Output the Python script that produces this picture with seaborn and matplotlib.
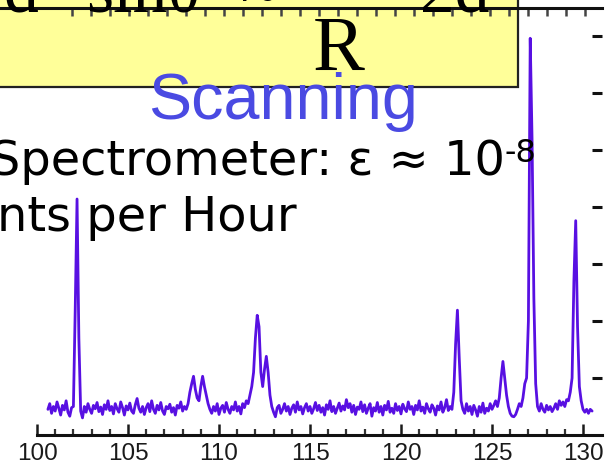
import numpy as np
import pandas as pd
import matplotlib
matplotlib.use("Agg")
import matplotlib.pyplot as plt
from matplotlib.patches import Rectangle
import seaborn as sns

# ---------------- data ----------------
x_start = 100.6
x_step = 0.1
counts = [
    0.45, 0.55, 0.38, 0.50,                                          # 100.6-100.9
    0.42, 0.58, 0.47, 0.35, 0.52, 0.44, 0.60, 0.40, 0.33, 0.48,      # 101
    0.50, 2.20, 4.14, 1.70, 0.42, 0.30, 0.50, 0.40, 0.55, 0.45,      # 102
    0.38, 0.52, 0.46, 0.57, 0.41, 0.49, 0.36, 0.53, 0.45, 0.60,      # 103
    0.43, 0.50, 0.37, 0.55, 0.46, 0.40, 0.58, 0.48, 0.35, 0.51,      # 104
    0.44, 0.56, 0.42, 0.38, 0.53, 0.64, 0.47, 0.40, 0.50, 0.36,      # 105
    0.48, 0.55, 0.41, 0.60, 0.45, 0.38, 0.52, 0.44, 0.57, 0.42,      # 106
    0.36, 0.50, 0.46, 0.54, 0.40, 0.48, 0.35, 0.52, 0.47, 0.58,      # 107
    0.42, 0.50, 0.45, 0.55, 0.75, 0.90, 1.03, 0.80, 0.65, 0.60,      # 108
    0.85, 1.03, 0.85, 0.70, 0.55, 0.45, 0.38, 0.50, 0.42, 0.55,      # 109
    0.36, 0.47, 0.52, 0.40, 0.57, 0.45, 0.38, 0.50, 0.44, 0.58,      # 110
    0.42, 0.50, 0.37, 0.55, 0.48, 0.60, 0.55, 0.70, 0.85, 1.10,      # 111
    1.70, 2.10, 1.90, 1.10, 0.85, 1.15, 1.38, 1.10, 0.70, 0.50,      # 112
    0.40, 0.32, 0.48, 0.52, 0.38, 0.45, 0.55, 0.42, 0.50, 0.36,      # 113
    0.47, 0.53, 0.40, 0.58, 0.44, 0.50, 0.37, 0.48, 0.55, 0.42,      # 114
    0.50, 0.38, 0.46, 0.57, 0.43, 0.52, 0.40, 0.48, 0.35, 0.53,      # 115
    0.45, 0.60, 0.41, 0.50, 0.38, 0.47, 0.56, 0.42, 0.51, 0.44,      # 116
    0.62, 0.48, 0.55, 0.40, 0.52, 0.36, 0.49, 0.45, 0.58, 0.41,      # 117
    0.53, 0.38, 0.47, 0.55, 0.33, 0.48, 0.42, 0.57, 0.40, 0.50,      # 118
    0.35, 0.52, 0.44, 0.59, 0.40, 0.47, 0.38, 0.55, 0.43, 0.50,      # 119
    0.37, 0.54, 0.46, 0.41, 0.58, 0.45, 0.50, 0.36, 0.52, 0.44,      # 120
    0.60, 0.42, 0.49, 0.38, 0.55, 0.46, 0.40, 0.53, 0.47, 0.35,      # 121
    0.51, 0.44, 0.58, 0.40, 0.48, 0.62, 0.43, 0.50, 0.45, 0.75,      # 122
    1.60, 2.19, 1.35, 0.60, 0.45, 0.38, 0.55, 0.42, 0.50, 0.36,      # 123
    0.52, 0.44, 0.33, 0.50, 0.40, 0.56, 0.38, 0.47, 0.42, 0.55,      # 124
    0.45, 0.52, 0.60, 0.50, 0.65, 1.00, 1.29, 1.00, 0.70, 0.50,      # 125
    0.38, 0.33, 0.32, 0.36, 0.45, 0.55, 0.50, 0.65, 0.90, 1.00,      # 126
    2.00, 6.96, 5.20, 2.40, 0.90, 0.50, 0.42, 0.55, 0.45, 0.40,      # 127
    0.52, 0.44, 0.50, 0.41, 0.47, 0.55, 0.45, 0.60, 0.52, 0.58,      # 128
    0.50, 0.62, 0.60, 0.75, 1.00, 2.70, 3.76, 1.90, 0.85, 0.60,      # 129
    0.45, 0.40, 0.45, 0.38, 0.45, 0.42,                              # 130
]
x_major = [100, 105, 110, 115, 120, 125, 130]
x_minor = [v for v in range(101, 131) if v % 5 != 0]
x_labels = ["100", "105", "110", "115", "120", "125", "130"]
y_ticks = [1, 2, 3, 4, 5, 6, 7]
top_ticks = list(range(103, 131))

positions = np.round(x_start + x_step * np.arange(len(counts)), 2)
df = pd.DataFrame({"pos": positions, "counts": counts})

# ---------------- figure ----------------
sns.set_theme(style="white")
plt.rcParams["font.family"] = ["Liberation Sans", "DejaVu Sans"]

W, H = 611, 467
fig = plt.figure(figsize=(W / 100, H / 100), dpi=100)
fig.patch.set_facecolor("white")

def fx(px):
    return px / W

def fy(py):
    return 1 - py / H

# pixel geometry of the plot
px100, ppu = 37.0, 18.2          # x=100 at px 37, 18.2 px per unit
py0, ppy = 435.0, 57.0           # y=0 at py 435, 57 px per unit
ax_left_px, ax_right_px, ax_top_px = 0.0, 602.0, 8.0

ax = fig.add_axes([fx(ax_left_px), fy(py0), fx(ax_right_px - ax_left_px),
                   (py0 - ax_top_px) / H])
ax.set_zorder(2)
ax.patch.set_visible(False)

sns.lineplot(data=df, x="pos", y="counts", ax=ax, color="#5810e2",
             linewidth=2.0, estimator=None, sort=False)

ax.set_xlim(100 - (px100 - ax_left_px) / ppu, 100 + (ax_right_px - px100) / ppu)
ax.set_ylim(0, (py0 - ax_top_px) / ppy)
ax.set_xlabel("")
ax.set_ylabel("")

for s in ["left", "right"]:
    ax.spines[s].set_visible(False)
for s in ["top", "bottom"]:
    ax.spines[s].set_color("#111111")
    ax.spines[s].set_linewidth(2.2)
ax.spines["bottom"].set_bounds(100, ax.get_xlim()[1])

ax.set_xticks(x_major)
ax.set_xticklabels(x_labels)
ax.set_xticks(x_minor, minor=True)
ax.tick_params(axis="x", which="major", direction="in", length=8, width=1.8,
               colors="#1a1a1a", labelsize=17.5, pad=6, top=False, bottom=True)
ax.tick_params(axis="x", which="minor", direction="in", length=4.5, width=1.6,
               colors="#333333", top=False, bottom=True)

ax.yaxis.tick_right()
ax.set_yticks(y_ticks)
ax.tick_params(axis="y", which="both", direction="in", length=7.5, width=2.2,
               colors="#111111", labelright=False, labelleft=False,
               left=False, right=True)

# top axis ticks (slightly different scale in the original scan)
def fwd(v):
    px = px100 + (v - 100) * ppu
    return 130 - (585 - px) / 19.0

def inv(t):
    px = 585 - (130 - t) * 19.0
    return 100 + (px - px100) / ppu

secax = ax.secondary_xaxis("top", functions=(fwd, inv))
secax.set_xticks(top_ticks)
secax.tick_params(axis="x", which="major", direction="in", length=6, width=1.8,
                  colors="#444444", labeltop=False)
secax.spines["top"].set_visible(False)

# ---------------- slide decorations ----------------
box = Rectangle((fx(-5), fy(87)), fx(523), 0.3, transform=fig.transFigure,
                facecolor="#FFFF99", edgecolor="#222222", linewidth=1.6,
                zorder=1)
fig.patches.append(box)

serif = ["Liberation Serif", "DejaVu Serif"]
fig.text(fx(313), fy(70), "R", fontsize=56, family=serif, color="black",
         ha="left", va="baseline", zorder=3)
fig.text(fx(3), fy(11), "d", fontsize=50, family=serif, color="black",
         ha="left", va="baseline", zorder=3)
fig.text(fx(86), fy(11), "sinθ", fontsize=50, family=serif, color="black",
         ha="left", va="baseline", zorder=3)
fig.text(fx(240), fy(11), "≈", fontsize=50, family=serif, color="black",
         ha="left", va="baseline", zorder=3)
fig.text(fx(420), fy(11), "2d", fontsize=50, family=serif, color="black",
         ha="left", va="baseline", zorder=3)

fig.text(fx(148), fy(119), "Scanning", fontsize=46.5,
         family=["Liberation Sans", "DejaVu Sans"], color="#4a4ae2",
         ha="left", va="baseline", zorder=3)

dv = ["DejaVu Sans"]
fig.text(fx(505), fy(175), "Spectrometer: ε ≈ 10", fontsize=34.5, family=dv,
         color="black", ha="right", va="baseline", zorder=3)
fig.text(fx(505), fy(162), "-8", fontsize=23, family=dv, color="black",
         ha="left", va="baseline", zorder=3)
fig.text(fx(-3), fy(231), "nts per Hour", fontsize=34.5, family=dv,
         color="black", ha="left", va="baseline", zorder=3)

fig.savefig("out.png", dpi=100, facecolor="white")
